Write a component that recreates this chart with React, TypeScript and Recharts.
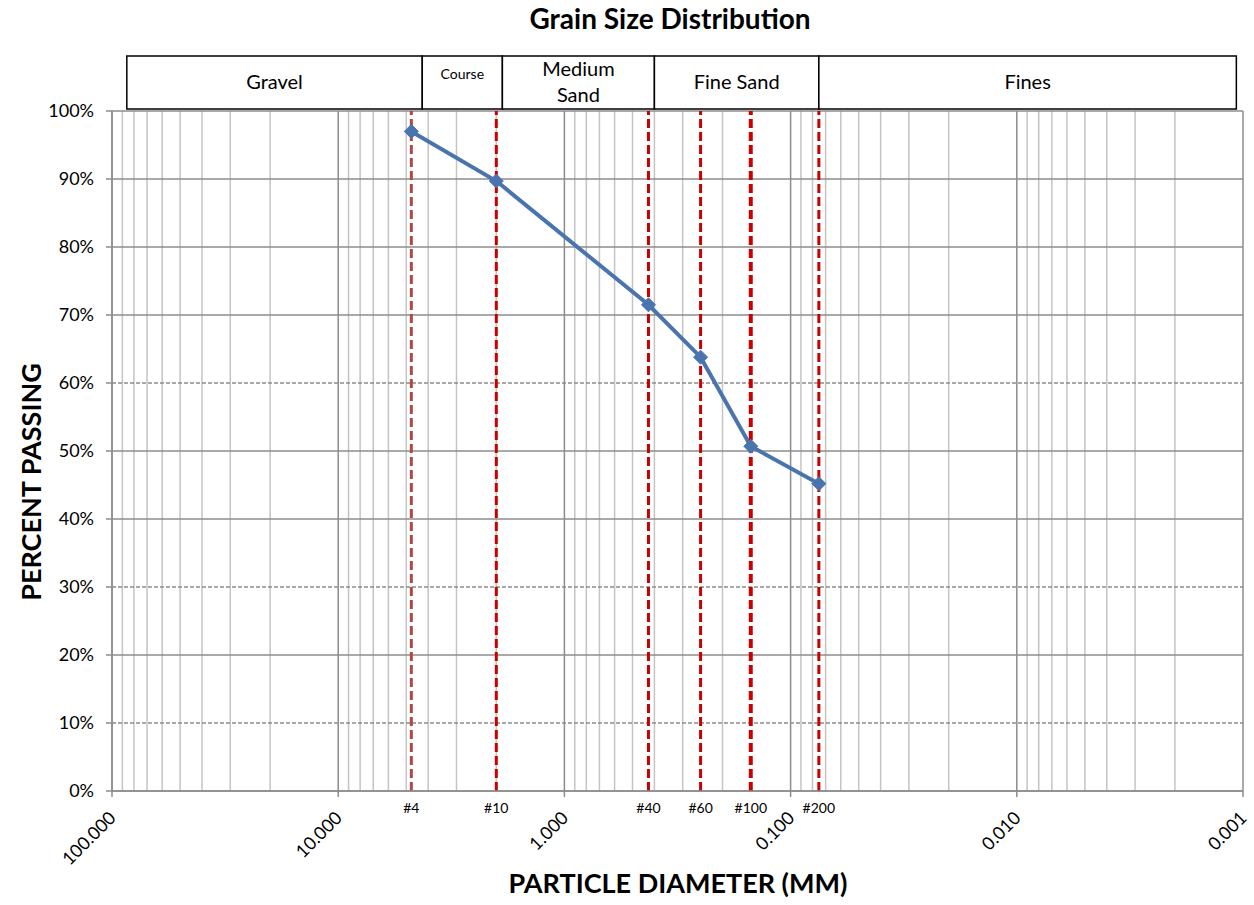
import { ComposedChart, Line, XAxis, YAxis, ReferenceLine, ReferenceArea } from 'recharts';

// sieve results
const sieveLabels = ['#4', '#10', '#40', '#60', '#100', '#200'];
const sieveSizes = [4.75, 2.0, 0.425, 0.25, 0.15, 0.075];
const percentPassing = [97.0, 89.7, 71.5, 63.8, 50.7, 45.2];

// axes
const xTicks = [100, 10, 1, 0.1, 0.01, 0.001];
const yTicks = [0, 10, 20, 30, 40, 50, 60, 70, 80, 90, 100];
const dottedRows = [10, 30, 60];

// soil classification bands across the top (mm)
const soilClasses = ['Gravel', 'Course', 'Medium Sand', 'Fine Sand', 'Fines'];
const classBounds = [86, 4.25, 1.88, 0.4, 0.075, 0.00107];

const FONT = 'Lato, "Open Sans", sans-serif';

const chartData = sieveSizes.map((size, i) => ({
  size,
  pct: percentPassing[i],
  sieve: sieveLabels[i],
}));

// minor log gridlines 2..9 in every decade
const minorLines: number[] = [];
xTicks.slice(1).forEach((base) => {
  for (let m = 2; m <= 9; m++) minorLines.push(Number((m * base).toPrecision(3)));
});

const Diamond = (props: any) => {
  const { cx, cy } = props;
  if (cx == null || cy == null) return null;
  const r = 7;
  return (
    <path
      d={`M${cx},${cy - r} L${cx + r},${cy} L${cx},${cy + r} L${cx - r},${cy} Z`}
      fill="#4a74ad"
      stroke="#4a74ad"
    />
  );
};

const XTick = (props: any) => {
  const { x, y, payload } = props;
  return (
    <text
      transform={`translate(${x + 5},${y + 22}) rotate(-45)`}
      textAnchor="end"
      fontSize={18}
      fontFamily={FONT}
      fill="#000"
    >
      {Number(payload.value).toFixed(3)}
    </text>
  );
};

const headerLabel = (name: string) => (props: any) => {
  const vb = props.viewBox;
  if (!vb) return null;
  const cx = vb.x + vb.width / 2;
  const small = vb.width < 100;
  const lines = vb.width < 160 && name.includes(' ') ? name.split(' ') : [name];
  if (small) {
    return (
      <text x={cx} y={vb.y + 23} textAnchor="middle" fontSize={14} fontFamily={FONT} fill="#000">
        {name}
      </text>
    );
  }
  const lh = 26;
  const startY = vb.y + vb.height / 2 - ((lines.length - 1) * lh) / 2 + 7;
  return (
    <text textAnchor="middle" fontSize={20} fontFamily={FONT} fill="#000">
      {lines.map((l, i) => (
        <tspan key={l} x={cx} y={startY + i * lh}>
          {l}
        </tspan>
      ))}
    </text>
  );
};

export default function App() {
  return (
    <div style={{ position: 'absolute', left: 0, top: 0, width: 1254, height: 905, background: '#fff', fontFamily: FONT }}>
      <div
        style={{
          position: 'absolute',
          left: 0,
          width: 1340,
          top: 1,
          textAlign: 'center',
          fontSize: 28,
          fontWeight: 700,
        }}
      >
        Grain Size Distribution
      </div>
      <div
        style={{
          position: 'absolute',
          left: 0,
          width: 1356,
          top: 866,
          textAlign: 'center',
          fontSize: 27,
          fontWeight: 700,
        }}
      >
        PARTICLE DIAMETER (MM)
      </div>
      <div
        style={{
          position: 'absolute',
          left: 30,
          top: 482,
          transform: 'translate(-50%, -50%) rotate(-90deg)',
          whiteSpace: 'nowrap',
          fontSize: 27,
          fontWeight: 700,
        }}
      >
        PERCENT PASSING
      </div>
      <ComposedChart
        width={1254}
        height={905}
        data={chartData}
        margin={{ top: 111, right: 11, left: 0, bottom: 54 }}
      >
        <XAxis
          dataKey="size"
          type="number"
          scale="log"
          domain={[0.001, 100]}
          reversed
          allowDataOverflow
          ticks={xTicks}
          interval={0}
          height={60}
          tickSize={6}
          tickMargin={0}
          tick={<XTick />}
          stroke="#8c8c8c"
          strokeWidth={1.5}
        />
        <YAxis
          type="number"
          domain={[0, 100]}
          ticks={yTicks}
          interval={0}
          width={112}
          tickSize={6}
          tickMargin={12}
          tickFormatter={(v: number) => `${v}%`}
          tick={{ fill: '#000', fontSize: 18, fontFamily: FONT }}
          stroke="#8c8c8c"
          strokeWidth={1.5}
        />

        {minorLines.map((v) => (
          <ReferenceLine key={`m${v}`} x={v} stroke="#c4c4c4" strokeWidth={1.5} ifOverflow="visible" />
        ))}
        {xTicks.map((v) => (
          <ReferenceLine key={`M${v}`} x={v} stroke="#8c8c8c" strokeWidth={1.5} ifOverflow="visible" />
        ))}
        {yTicks.map((v) => (
          <ReferenceLine
            key={`y${v}`}
            y={v}
            stroke="#8c8c8c"
            strokeWidth={1.5}
            strokeDasharray={dottedRows.includes(v) ? '4 2' : undefined}
          />
        ))}

        {soilClasses.map((name, i) => (
          <ReferenceArea
            key={name}
            x1={classBounds[i]}
            x2={classBounds[i + 1]}
            y1={100.3}
            y2={108.1}
            fill="#fff"
            fillOpacity={1}
            stroke="#000"
            strokeWidth={1.5}
            ifOverflow="visible"
            label={headerLabel(name)}
          />
        ))}

        <Line
          dataKey="pct"
          stroke="#4a74ad"
          strokeWidth={4}
          dot={<Diamond />}
          activeDot={false}
          isAnimationActive={false}
        />

        {sieveSizes.map((s, i) => (
          <ReferenceLine
            key={`s${s}`}
            x={s}
            stroke={i === 0 ? '#b04646' : '#c80000'}
            strokeWidth={sieveLabels[i] === '#100' ? 4 : 3}
            strokeDasharray="9 4"
            label={{
              value: sieveLabels[i],
              position: 'bottom',
              offset: 12,
              fontSize: 14,
              fill: '#000',
              fontFamily: FONT,
            }}
          />
        ))}
      </ComposedChart>
    </div>
  );
}
